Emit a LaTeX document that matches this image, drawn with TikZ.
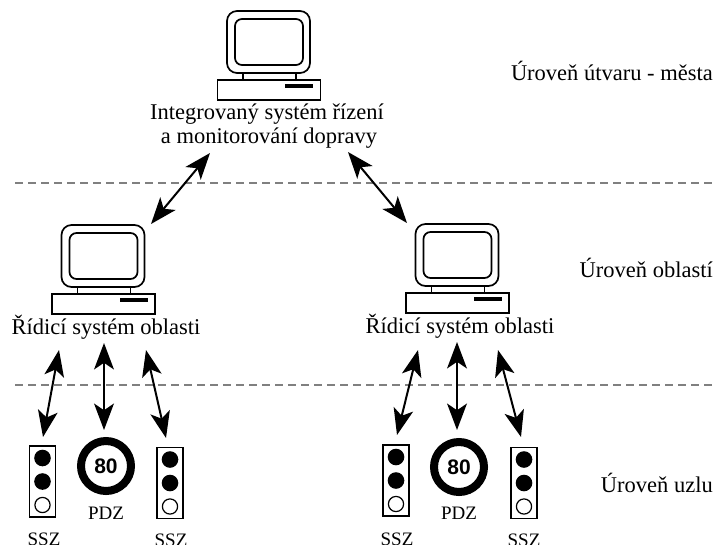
\documentclass[tikz,border=0pt]{standalone}
\usepackage{fontspec}
\setmainfont{Liberation Serif}
\newfontfamily\numfont{Liberation Sans}
\usetikzlibrary{arrows.meta}
\tikzset{
  cpu/.pic={
    \draw[rounded corners=10pt] (-42,-69) rectangle (41,-7);
    \draw[rounded corners=7pt] (-34,-61) rectangle (34,-15);
    \draw (-26,-7) -- (-26,0) (27,-7) -- (27,0);
    \draw (-51.5,0) rectangle (51.5,20);
    \fill (16,4) rectangle (44,8);
  },
  semafor/.pic={
    \node[draw, line width=1.8pt, minimum width=26pt, minimum height=71pt, inner sep=0pt] (-box) {};
    \fill (0,-23.5) circle (8.3pt);
    \fill (0,0) circle (8.3pt);
    \draw[line width=1.2pt, fill=white] (0,23.5) circle (7.6pt);
  },
  pdz/.style={circle, draw, line width=8pt, minimum size=50pt, inner sep=0pt,
    font=\numfont\bfseries\fontsize{21}{21}\selectfont},
  maintext/.style={font=\fontsize{22.5}{24}\selectfont, inner sep=0pt},
  smalltext/.style={font=\fontsize{19}{20}\selectfont, inner sep=0pt, anchor=base},
  leveltext/.style={maintext, anchor=base east},
  divider/.style={draw=black!50, line width=1.3pt, dash pattern=on 8pt off 5pt},
  link/.style={line width=2pt, {Stealth[scale=2.2,inset=3pt]}-{Stealth[scale=2.2,inset=3pt]}},
  cpuline/.style={line width=1.7pt},
}
\begin{document}
\begin{tikzpicture}[x=1pt, y=-1pt]
\useasboundingbox (0,0) rectangle (717,544);
\clip (0,0) rectangle (717,544);

% dividers
\coordinate (d1a) at (15,183);
\coordinate (d1b) at (717,183);
\coordinate (d2a) at (15,385);
\coordinate (d2b) at (717,385);
\path[divider] (d1a) -- (d1b);
\path[divider] (d2a) -- (d2b);

% level labels
\node[leveltext] (lev1) at (713,80) {Úroveň útvaru - města};
\node[leveltext] (lev2) at (713,277) {Úroveň oblastí};
\node[leveltext] (lev3) at (713,492) {Úroveň uzlu};

% computers
\pic[cpuline] (topcpu) at (269,80) {cpu};
\pic[cpuline] (lcpu) at (103.5,294) {cpu};
\pic[cpuline] (rcpu) at (457.5,293) {cpu};

\node[maintext, anchor=base] (toplab1) at (267,119) {Integrovaný systém řízení};
\node[maintext, anchor=base] (toplab2) at (269,143) {a monitorování dopravy};
\node[maintext, anchor=base] (llab) at (106,334) {Řídicí systém oblasti};
\node[maintext, anchor=base] (rlab) at (460,333) {Řídicí systém oblasti};

% traffic lights and speed signs
\pic (ls1) at (42.5,481.5) {semafor};
\pic (ls2) at (170,483) {semafor};
\pic (rs1) at (396,480.5) {semafor};
\pic (rs2) at (524,483) {semafor};
\node[pdz] (lpdz) at (106,466) {80};
\node[pdz] (rpdz) at (459,467) {80};

\node[smalltext] (lpdzlab) at (106,519) {PDZ};
\node[smalltext] (rpdzlab) at (459,519) {PDZ};
\node[smalltext] (ls1lab) at (44,545) {SSZ};
\node[smalltext] (ls2lab) at (171,546) {SSZ};
\node[smalltext] (rs1lab) at (397,545) {SSZ};
\node[smalltext] (rs2lab) at (524,546) {SSZ};

% arrow end points
\coordinate (a1t) at (210,153);
\coordinate (a1b) at (151,224);
\coordinate (a2t) at (348,152);
\coordinate (a2b) at (407,223);
\coordinate (b1t) at (59,350);
\coordinate (b1b) at (43,437);
\coordinate (b2t) at (104,343);
\coordinate (b2b) at (104,430);
\coordinate (b3t) at (146,350);
\coordinate (b3b) at (166,438);
\coordinate (c1t) at (418,350);
\coordinate (c1b) at (397,435);
\coordinate (c2t) at (457,342);
\coordinate (c2b) at (457,430);
\coordinate (c3t) at (498,350);
\coordinate (c3b) at (521,437);

\draw[link] (a1t) -- (a1b);
\draw[link] (a2t) -- (a2b);
\draw[link] (b1t) -- (b1b);
\draw[link] (b2t) -- (b2b);
\draw[link] (b3t) -- (b3b);
\draw[link] (c1t) -- (c1b);
\draw[link] (c2t) -- (c2b);
\draw[link] (c3t) -- (c3b);
\end{tikzpicture}
\end{document}
